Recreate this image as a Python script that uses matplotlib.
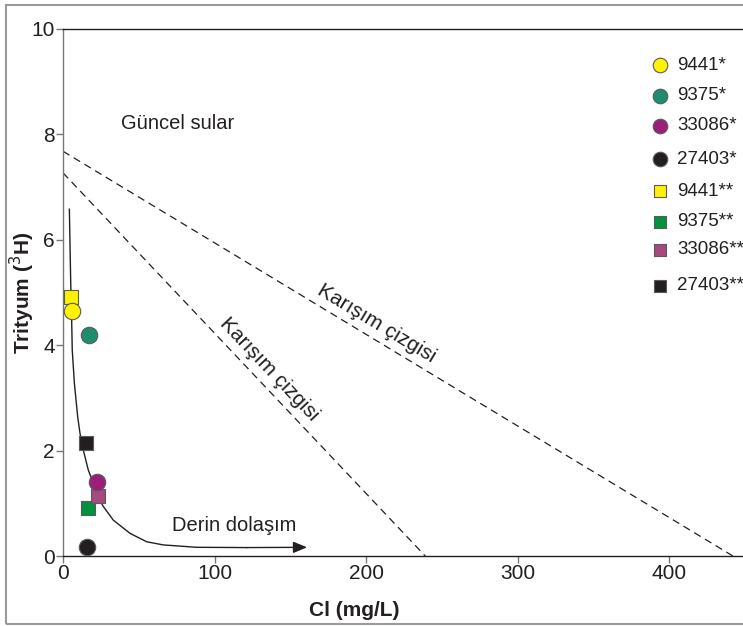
import matplotlib
matplotlib.use("Agg")
import matplotlib.pyplot as plt
from matplotlib.patches import Rectangle

plt.rcParams['font.family'] = ['Liberation Sans', 'DejaVu Sans']

# ---- data ----
circle_labels = ["9441*", "9375*", "33086*", "27403*"]
circle_cl = [5.7, 17.0, 22.7, 15.6]
circle_t = [4.65, 4.19, 1.40, 0.17]
circle_colors = ["#FFF200", "#1E8C6E", "#9B1F7A", "#231F20"]

square_labels = ["9441**", "9375**", "33086**", "27403**"]
square_cl = [5.3, 16.3, 23.3, 15.4]
square_t = [4.91, 0.92, 1.14, 2.15]
square_colors = ["#FFF200", "#00923F", "#A5497E", "#231F20"]

curve_cl = [4.2, 5.1, 5.6, 6.1, 7.5, 9.7, 11.2, 13.4, 16.7, 19.8, 22.2, 26.6, 33.2,
            44.2, 55.2, 66.2, 88.2, 121.0, 161.0]
curve_t = [6.58, 5.17, 4.65, 3.91, 3.28, 2.64, 2.33, 2.01, 1.63, 1.40, 1.16, 0.94, 0.68,
           0.43, 0.27, 0.21, 0.165, 0.16, 0.165]

mix1_cl = [0, 442]
mix1_t = [7.68, 0]
mix2_cl = [0, 239]
mix2_t = [7.27, 0]

xticks = [0, 100, 200, 300, 400]
yticks = [0, 2, 4, 6, 8, 10]

fig = plt.figure(figsize=(7.43, 6.26), dpi=100)
ax = fig.add_axes([63/743, 70/626, (742-63)/743, 527/626])
ax.set_xlim(0, 448)
ax.set_ylim(0, 10)

# outer border
fig.patches.append(Rectangle((6/743, 2/626), 1.2, 619/626, transform=fig.transFigure,
                             fill=False, edgecolor="#9a9a9a", lw=1.5, zorder=0))

# mixing lines
ax.plot(mix1_cl, mix1_t, ls=(0, (6, 4)), color="#231F20", lw=0.9)
ax.plot(mix2_cl, mix2_t, ls=(0, (6, 4)), color="#231F20", lw=0.9)

# curve with arrow
ax.plot(curve_cl[:-1], curve_t[:-1], color="#231F20", lw=1.0)
ax.annotate("", xy=(curve_cl[-1], curve_t[-1]), xytext=(curve_cl[-2], curve_t[-2]),
            arrowprops=dict(arrowstyle="-|>,head_length=0.6,head_width=0.25",
                            color="#231F20", lw=1.0,
                            mutation_scale=14, shrinkA=0, shrinkB=0))

# points
for x, y, c in zip(square_cl, square_t, square_colors):
    ax.scatter([x], [y], marker="s", s=100, c=c, edgecolors="#5a5a5a", linewidths=0.8, zorder=5)
for x, y, c in zip(circle_cl, circle_t, circle_colors):
    ax.scatter([x], [y], marker="o", s=140, c=c, edgecolors="#5a5a5a", linewidths=0.8, zorder=5)

# manual legend
leg_y = [65, 96, 126, 159, 191, 222, 250, 286]
leg_items = ([("o", c, l) for c, l in zip(circle_colors, circle_labels)] +
             [("s", c, l) for c, l in zip(square_colors, square_labels)])
for (m, c, l), yp in zip(leg_items, leg_y):
    yfrac = (556 - yp) / 527
    xm = (660 - 63) / 679
    ax.scatter([xm], [yfrac], marker=m, s=110 if m == "o" else 70, c=c,
               edgecolors="#5a5a5a", linewidths=0.8, transform=ax.transAxes,
               clip_on=False, zorder=6)
    ax.text((677 - 63) / 679, yfrac, l, transform=ax.transAxes, fontsize=13.5,
            va="center", ha="left", color="#231F20")

# texts
ax.text(38, 8.2, "Güncel sular", fontsize=14.5, color="#231F20", va="center", ha="left")
ax.text(72, 0.58, "Derin dolaşım", fontsize=14.5, color="#231F20", va="center", ha="left")
ax.text(207, 4.42, "Karışım çizgisi", fontsize=15, color="#231F20", rotation=-31,
        rotation_mode="anchor", ha="center", va="center")
ax.text(136, 3.55, "Karışım çizgisi", fontsize=15, color="#231F20", rotation=-46.5,
        rotation_mode="anchor", ha="center", va="center")

# axes styling
ax.spines["right"].set_visible(False)
for s in ["left", "bottom", "top"]:
    ax.spines[s].set_color("#231F20")
    ax.spines[s].set_linewidth(1.0)
ax.spines["left"].set_color("#777777")
ax.set_xticks(xticks)
ax.set_yticks(yticks)
ax.tick_params(direction="out", length=5, width=1, color="#777777",
               labelsize=15, labelcolor="#231F20", pad=1)

ax.set_xlabel("Cl (mg/L)", fontsize=15, fontweight="bold", color="#231F20")
ax.xaxis.set_label_coords((354 - 63) / 679, -0.085)
ax.set_ylabel("Trityum ($^{3}$H)", fontsize=15, fontweight="bold", color="#231F20")
ax.yaxis.set_label_coords(-0.038, 0.5)

fig.savefig("out.png", dpi=100)
